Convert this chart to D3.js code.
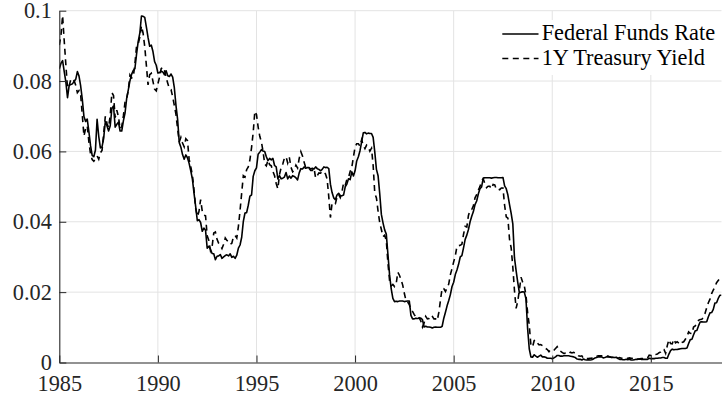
<!DOCTYPE html>
<html>
<head>
<meta charset="utf-8">
<script src="https://cdn.jsdelivr.net/npm/d3@7"></script>
<style>
  body { margin: 0; background: #fff; }
  svg { display: block; }
</style>
</head>
<body>
<div id="chart"></div>
<script>
// Monthly series, January 1985 through August 2018 (percent)
const startYear = 1985;

const fedFunds = [
  8.35, 8.50, 8.58, 8.27, 7.97, 7.53, 7.88, 7.90, 7.92, 7.99, 8.05, 8.27,
  8.14, 7.86, 7.48, 6.99, 6.85, 6.92, 6.56, 6.17, 5.89, 5.85, 6.04, 6.91,
  6.43, 6.10, 6.13, 6.37, 6.85, 6.73, 6.58, 6.73, 7.22, 7.29, 6.69, 6.77,
  6.83, 6.58, 6.58, 6.87, 7.09, 7.51, 7.75, 8.01, 8.19, 8.30, 8.35, 8.76,
  9.12, 9.36, 9.85, 9.84, 9.81, 9.53, 9.24, 8.99, 9.02, 8.84, 8.55, 8.45,
  8.23, 8.24, 8.28, 8.26, 8.18, 8.29, 8.15, 8.13, 8.20, 8.11, 7.81, 7.31,
  6.91, 6.25, 6.12, 5.91, 5.78, 5.90, 5.82, 5.66, 5.45, 5.21, 4.81, 4.43,
  4.03, 4.06, 3.98, 3.73, 3.82, 3.76, 3.25, 3.30, 3.22, 3.10, 3.09, 2.92,
  3.02, 3.03, 3.07, 2.96, 3.00, 3.04, 3.06, 3.03, 3.09, 2.99, 3.02, 2.96,
  3.05, 3.25, 3.34, 3.56, 4.01, 4.25, 4.26, 4.47, 4.73, 4.76, 5.29, 5.45,
  5.53, 5.92, 5.98, 6.05, 6.01, 6.00, 5.85, 5.74, 5.80, 5.76, 5.80, 5.60,
  5.56, 5.22, 5.31, 5.22, 5.24, 5.27, 5.40, 5.22, 5.30, 5.24, 5.31, 5.29,
  5.25, 5.19, 5.39, 5.51, 5.50, 5.56, 5.52, 5.54, 5.54, 5.50, 5.52, 5.50,
  5.56, 5.51, 5.49, 5.45, 5.49, 5.56, 5.54, 5.55, 5.51, 5.07, 4.83, 4.68,
  4.63, 4.76, 4.81, 4.74, 4.74, 4.76, 4.99, 5.07, 5.22, 5.20, 5.42, 5.30,
  5.45, 5.73, 5.85, 6.02, 6.27, 6.53, 6.54, 6.50, 6.52, 6.51, 6.51, 6.40,
  5.98, 5.49, 5.31, 4.80, 4.21, 3.97, 3.77, 3.65, 3.07, 2.49, 2.09, 1.82,
  1.73, 1.74, 1.73, 1.75, 1.75, 1.75, 1.73, 1.74, 1.75, 1.75, 1.34, 1.24,
  1.24, 1.26, 1.25, 1.26, 1.26, 1.22, 1.01, 1.03, 1.01, 1.01, 1.00, 0.98,
  1.00, 1.01, 1.00, 1.00, 1.00, 1.03, 1.26, 1.43, 1.61, 1.76, 1.93, 2.16,
  2.28, 2.50, 2.63, 2.79, 3.00, 3.04, 3.26, 3.50, 3.62, 3.78, 4.00, 4.16,
  4.29, 4.49, 4.59, 4.79, 4.94, 4.99, 5.24, 5.25, 5.25, 5.25, 5.25, 5.24,
  5.25, 5.26, 5.26, 5.25, 5.25, 5.25, 5.26, 5.02, 4.94, 4.76, 4.49, 4.24,
  3.94, 2.98, 2.61, 2.28, 1.98, 2.00, 2.01, 2.00, 1.81, 0.97, 0.39, 0.16,
  0.15, 0.22, 0.18, 0.15, 0.18, 0.21, 0.16, 0.16, 0.15, 0.12, 0.12, 0.12,
  0.11, 0.13, 0.16, 0.20, 0.20, 0.18, 0.18, 0.19, 0.19, 0.19, 0.19, 0.18,
  0.17, 0.16, 0.14, 0.10, 0.09, 0.09, 0.07, 0.10, 0.08, 0.07, 0.08, 0.07,
  0.08, 0.10, 0.13, 0.14, 0.16, 0.16, 0.16, 0.13, 0.14, 0.16, 0.16, 0.16,
  0.14, 0.15, 0.14, 0.15, 0.11, 0.09, 0.09, 0.08, 0.08, 0.09, 0.08, 0.09,
  0.07, 0.07, 0.08, 0.09, 0.09, 0.10, 0.09, 0.09, 0.09, 0.09, 0.09, 0.12,
  0.11, 0.11, 0.11, 0.12, 0.12, 0.13, 0.13, 0.14, 0.14, 0.12, 0.12, 0.24,
  0.34, 0.38, 0.36, 0.37, 0.37, 0.38, 0.39, 0.40, 0.40, 0.40, 0.41, 0.54,
  0.65, 0.66, 0.79, 0.90, 0.91, 1.04, 1.15, 1.16, 1.15, 1.15, 1.16, 1.30,
  1.41, 1.42, 1.51, 1.69, 1.70, 1.82, 1.91, 1.91
];

const treasury1y = [
  9.02, 9.29, 9.86, 9.14, 8.46, 7.80, 7.86, 8.05, 8.07, 8.01, 7.88, 7.67,
  7.73, 7.61, 7.03, 6.44, 6.65, 6.73, 6.27, 5.93, 5.77, 5.72, 5.80, 5.87,
  5.78, 5.96, 6.03, 6.50, 7.00, 6.80, 6.68, 7.03, 7.67, 7.59, 6.96, 7.17,
  6.99, 6.64, 6.71, 7.01, 7.40, 7.49, 7.75, 8.17, 8.09, 8.11, 8.48, 8.99,
  9.05, 9.25, 9.57, 9.36, 8.98, 8.44, 7.89, 8.18, 8.22, 7.99, 7.77, 7.72,
  7.92, 8.11, 8.35, 8.40, 8.32, 8.10, 7.94, 7.78, 7.76, 7.55, 7.31, 7.05,
  6.64, 6.27, 6.40, 6.24, 6.13, 6.36, 6.31, 5.78, 5.57, 5.33, 4.89, 4.38,
  4.15, 4.29, 4.63, 4.30, 4.19, 4.17, 3.60, 3.47, 3.18, 3.30, 3.68, 3.71,
  3.50, 3.39, 3.33, 3.24, 3.36, 3.54, 3.47, 3.44, 3.36, 3.39, 3.58, 3.61,
  3.54, 3.87, 4.32, 4.82, 5.31, 5.27, 5.48, 5.56, 5.76, 6.11, 6.54, 7.14,
  7.05, 6.70, 6.43, 6.27, 6.00, 5.64, 5.59, 5.75, 5.62, 5.59, 5.43, 5.31,
  5.09, 4.94, 5.34, 5.54, 5.64, 5.81, 5.85, 5.67, 5.83, 5.55, 5.42, 5.47,
  5.61, 5.53, 5.80, 5.99, 5.87, 5.69, 5.54, 5.56, 5.52, 5.46, 5.46, 5.53,
  5.24, 5.31, 5.39, 5.38, 5.44, 5.41, 5.36, 5.21, 4.71, 4.12, 4.53, 4.52,
  4.51, 4.70, 4.78, 4.69, 4.85, 5.10, 5.03, 5.20, 5.25, 5.43, 5.55, 5.84,
  6.12, 6.22, 6.22, 6.15, 6.33, 6.17, 6.08, 6.18, 6.13, 6.01, 6.09, 5.60,
  4.81, 4.68, 4.30, 3.98, 3.78, 3.58, 3.62, 3.47, 2.82, 2.33, 2.18, 2.22,
  2.16, 2.23, 2.57, 2.48, 2.35, 2.20, 1.96, 1.76, 1.72, 1.65, 1.49, 1.45,
  1.36, 1.30, 1.24, 1.27, 1.18, 1.01, 1.12, 1.31, 1.24, 1.25, 1.34, 1.31,
  1.24, 1.24, 1.19, 1.43, 1.78, 2.12, 2.10, 2.02, 2.12, 2.23, 2.50, 2.67,
  2.86, 3.03, 3.30, 3.32, 3.33, 3.36, 3.64, 3.87, 3.85, 4.18, 4.33, 4.35,
  4.45, 4.68, 4.77, 4.90, 5.00, 5.16, 5.22, 5.08, 4.97, 5.01, 5.01, 4.94,
  5.06, 5.05, 4.92, 4.93, 4.91, 4.96, 4.96, 4.47, 4.14, 4.10, 3.50, 3.26,
  2.71, 2.05, 1.54, 1.74, 2.06, 2.42, 2.28, 2.18, 1.91, 1.42, 1.07, 0.49,
  0.44, 0.62, 0.64, 0.55, 0.50, 0.51, 0.48, 0.46, 0.40, 0.37, 0.31, 0.37,
  0.35, 0.35, 0.40, 0.45, 0.37, 0.32, 0.29, 0.26, 0.26, 0.23, 0.25, 0.29,
  0.27, 0.29, 0.26, 0.25, 0.19, 0.18, 0.19, 0.11, 0.10, 0.11, 0.11, 0.12,
  0.12, 0.16, 0.19, 0.18, 0.19, 0.19, 0.19, 0.18, 0.18, 0.18, 0.18, 0.16,
  0.15, 0.16, 0.15, 0.12, 0.12, 0.14, 0.12, 0.13, 0.12, 0.12, 0.12, 0.13,
  0.12, 0.12, 0.13, 0.11, 0.10, 0.10, 0.11, 0.11, 0.11, 0.10, 0.13, 0.21,
  0.20, 0.22, 0.25, 0.23, 0.24, 0.28, 0.30, 0.38, 0.37, 0.26, 0.48, 0.65,
  0.54, 0.53, 0.66, 0.56, 0.59, 0.55, 0.51, 0.57, 0.59, 0.66, 0.74, 0.87,
  0.83, 0.82, 1.01, 1.04, 1.12, 1.20, 1.22, 1.23, 1.28, 1.40, 1.56, 1.70,
  1.80, 1.96, 2.06, 2.15, 2.27, 2.33, 2.39, 2.45
];

const xTicks = [1985, 1990, 1995, 2000, 2005, 2010, 2015];
const yTicks = [0, 0.02, 0.04, 0.06, 0.08, 0.1];
const seriesNames = ["Federal Funds Rate", "1Y Treasury Yield"];

const W = 722, H = 402;
const margin = { top: 10.7, right: 0.5, bottom: 39.5, left: 59.3 };
const innerW = W - margin.left - margin.right;
const innerH = H - margin.top - margin.bottom;
const axisColor = "#262626";
const serif = "'Liberation Serif', 'Times New Roman', serif";
const dash = "6,4.5";

const svg = d3.select("#chart").append("svg")
    .attr("width", W)
    .attr("height", H);

const g = svg.append("g")
    .attr("transform", `translate(${margin.left},${margin.top})`);

// decimal year for month i
const toYear = i => startYear + i / 12;
const lastYear = toYear(fedFunds.length - 1);

const x = d3.scaleLinear().domain([startYear, lastYear]).range([0, innerW]);
const y = d3.scaleLinear().domain([0, 0.1]).range([innerH, 0]);

// grid
g.append("g")
    .selectAll("line")
    .data(xTicks.slice(1))
    .enter().append("line")
    .attr("x1", d => x(d)).attr("x2", d => x(d))
    .attr("y1", 0).attr("y2", innerH)
    .attr("stroke", "#e3e3e3").attr("stroke-width", 1);

g.append("g")
    .selectAll("line")
    .data(yTicks.slice(1))
    .enter().append("line")
    .attr("x1", 0).attr("x2", innerW)
    .attr("y1", d => y(d)).attr("y2", d => y(d))
    .attr("stroke", "#e3e3e3").attr("stroke-width", 1);

// lines
svg.append("clipPath").attr("id", "clip")
    .append("rect").attr("width", innerW).attr("height", innerH + 2).attr("y", -1);

const line = d3.line()
    .x((d, i) => x(toYear(i)))
    .y(d => y(d / 100));

const plot = g.append("g").attr("clip-path", "url(#clip)");

plot.append("path")
    .datum(treasury1y)
    .attr("d", line)
    .attr("fill", "none")
    .attr("stroke", "#000")
    .attr("stroke-width", 1.6)
    .attr("stroke-dasharray", dash);

plot.append("path")
    .datum(fedFunds)
    .attr("d", line)
    .attr("fill", "none")
    .attr("stroke", "#000")
    .attr("stroke-width", 1.6)
    .attr("stroke-linejoin", "round");

// axes
const xAxis = g.append("g")
    .attr("transform", `translate(0,${innerH})`)
    .call(d3.axisBottom(x).tickValues(xTicks).tickFormat(d3.format("d"))
        .tickSizeInner(-7).tickSizeOuter(0).tickPadding(13));

const yAxis = g.append("g")
    .call(d3.axisLeft(y).tickValues(yTicks).tickFormat(d => d === 0 ? "0" : String(+d.toFixed(2)))
        .tickSizeInner(-7).tickSizeOuter(0).tickPadding(7.5));

[xAxis, yAxis].forEach(a => {
    a.select(".domain").attr("stroke", axisColor).attr("stroke-width", 1.1);
    a.selectAll(".tick line").attr("stroke", axisColor).attr("stroke-width", 1);
    a.selectAll(".tick text")
        .attr("fill", axisColor)
        .style("font-family", serif)
        .style("font-size", "22.3px");
});

// legend
const legend = svg.append("g").attr("transform", "translate(497,20)");

legend.append("rect")
    .attr("width", 226).attr("height", 55)
    .attr("fill", "#fff");

seriesNames.forEach((name, i) => {
    const row = legend.append("g").attr("transform", `translate(0,${14 + i * 24.5})`);
    row.append("line")
        .attr("x1", 5.3).attr("x2", 41.5)
        .attr("stroke", "#000").attr("stroke-width", 1.6)
        .attr("stroke-dasharray", i === 1 ? dash : null);
    row.append("text")
        .attr("x", 44.7).attr("y", 6.2)
        .style("font-family", serif)
        .style("font-size", "22.3px")
        .attr("fill", "#000")
        .text(name);
});
</script>
</body>
</html>
